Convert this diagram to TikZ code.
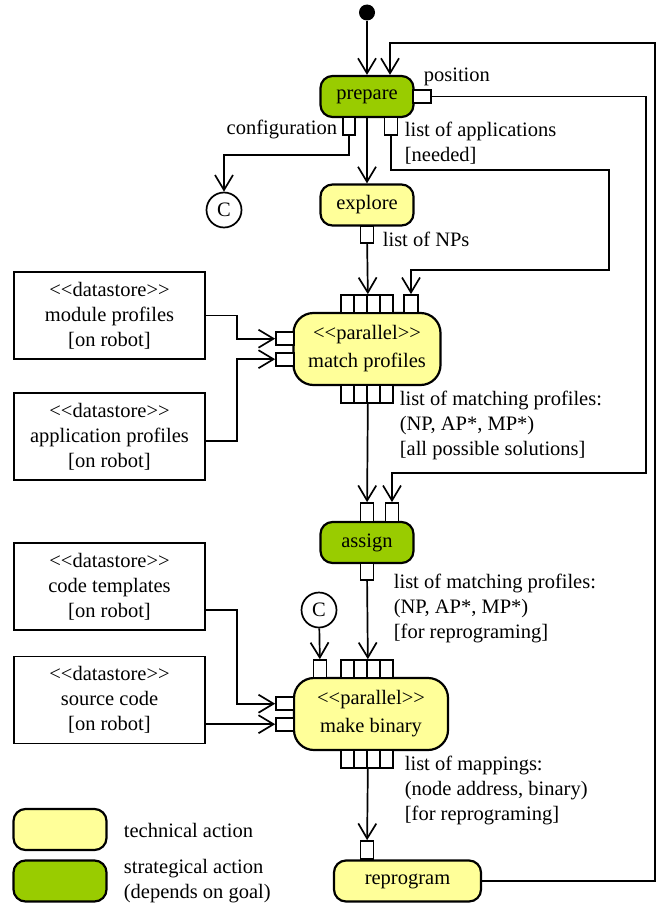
\documentclass[tikz,border=0pt]{standalone}
\usepackage{fontspec}
\setmainfont{Liberation Serif}
\usetikzlibrary{arrows.meta}
\definecolor{techyellow}{HTML}{FFFF99}
\definecolor{stratgreen}{HTML}{99CC00}
\begin{document}
\begin{tikzpicture}[x=1pt, y=-1pt, line width=1.7pt,
    font=\fontsize{20.5}{25}\selectfont,
    flow/.style={-{Straight Barb[length=15pt,width=18pt]}},
    action/.style={draw, line width=2.2pt, rounded corners=12pt, inner sep=0pt,
        minimum width=93pt, minimum height=41pt, align=center},
    tech/.style={action, fill=techyellow},
    strat/.style={action, fill=stratgreen},
    wide/.style={minimum width=147pt, minimum height=72pt, rounded corners=20pt},
    store/.style={draw, inner sep=0pt, minimum width=191pt, minimum height=87pt, align=center},
    vport/.style={draw, fill=white, inner sep=0pt, minimum width=13pt, minimum height=18pt},
    hport/.style={draw, fill=white, inner sep=0pt, minimum width=18pt, minimum height=13pt},
    conn/.style={draw, circle, inner sep=0pt, minimum size=35pt},
    lbl/.style={inner sep=0pt, align=left}]
    \useasboundingbox (0,0) rectangle (657,907);

    \node[circle, fill, inner sep=0pt, minimum size=16pt] (start) at (367,12.5) {};
    \node[strat] (prepare) at (367,96.5) {prepare};
    \node[tech] (explore) at (367,205) {explore};
    \node[tech, wide] (match) at (367,349) {<{}<parallel>{}>\\[3pt]match profiles};
    \node[strat] (assign) at (367,542.5) {assign};
    \node[tech, wide, minimum width=154pt] (binary) at (371,714) {<{}<parallel>{}>\\[3pt]make binary};
    \node[tech, minimum width=147pt] (reprogram) at (407.5,881) {reprogram};

    \node[store] (modProf) at (109.5,315.5) {<{}<datastore>{}>\\module profiles\\{[on robot]}};
    \node[store] (appProf) at (109.5,436.7) {<{}<datastore>{}>\\application profiles\\{[on robot]}};
    \node[store] (codeTpl) at (109.5,586.7) {<{}<datastore>{}>\\code templates\\{[on robot]}};
    \node[store] (srcCode) at (109.5,700) {<{}<datastore>{}>\\source code\\{[on robot]}};

    \node[conn] (connA) at (224,210) {C};
    \node[conn] (connB) at (319,610) {C};

    \node[hport] (prepPos) at (422,96.5) {};
    \node[vport, minimum width=12pt] (prepConf) at (349,126) {};
    \node[vport] (prepApps) at (391,126) {};
    \node[vport, minimum height=17pt] (exploreOut) at (367,234.5) {};
    \foreach \i in {1,...,4} {
        \node[vport] (matchIn\i) at ({334.5+13*\i},304) {};
        \node[vport] (matchOut\i) at ({334.5+13*\i},394) {};
        \node[vport] (binaryIn\i) at ({334.5+13*\i},669) {};
        \node[vport] (binaryOut\i) at ({334.5+13*\i},759) {};
    }
    \node[vport, minimum width=14pt] (matchApps) at (411,304) {};
    \node[hport] (matchL1) at (285,338.7) {};
    \node[hport] (matchL2) at (285,359.2) {};
    \node[vport, minimum height=19pt] (assignIn1) at (367,512.5) {};
    \node[vport, minimum height=19pt] (assignIn2) at (392,512.5) {};
    \node[vport, minimum height=17pt] (assignOut) at (367,571.5) {};
    \node[vport] (binaryC) at (320,669) {};
    \node[hport] (binaryL1) at (285,703.7) {};
    \node[hport] (binaryL2) at (285,724.2) {};
    \node[vport] (reprogramIn) at (367,850) {};

    \draw[flow] (start) -- (prepare);
    \draw[flow] (prepare) -- (explore);
    \draw[flow] (reprogram.east) -| (655,43) -| ([xshift=23pt]prepare.north);
    \draw[flow] (prepPos.east) -| (646,473) -| (assignIn2.north);
    \draw[flow] (prepConf.south) -- ++(0,19) -| (connA.north);
    \draw[flow] (prepApps.south) -- ++(0,34) -| (609,270) -| (matchApps.north);
    \draw[flow] (exploreOut) -- (matchIn2.north east);
    \draw[flow] (matchOut2.south east) -- (assignIn1);
    \draw[flow] (assignOut) -- (binaryIn2.north east);
    \draw[flow] (binaryOut2.south east) -- (reprogramIn);
    \draw[flow] (connB) -- (binaryC);
    \draw[flow] (modProf.east) -| ([xshift=-38pt]matchL1.west) -- (matchL1);
    \draw[flow] ([yshift=-4pt]appProf.east) -| ([xshift=-38pt]matchL2.west) -- (matchL2);
    \draw[flow] ([yshift=-23pt]codeTpl.east) -| ([xshift=-38pt]binaryL1.west) -- (binaryL1);
    \draw[flow] (srcCode.east |- binaryL2.west) -- (binaryL2);

    \node[lbl, anchor=north west] (posLbl) at (423,67) {position};
    \node[lbl, anchor=north east] (confLbl) at (338,119) {configuration};
    \node[lbl, anchor=north west] (appsLbl) at (404,121) {list of applications\\{[needed]}};
    \node[lbl, anchor=north west] (npLbl) at (382,231) {list of NPs};
    \node[lbl, anchor=north west] (matchLbl) at (399,390) {list of matching profiles:\\(NP, AP*, MP*)\\{[all possible solutions]}};
    \node[lbl, anchor=north west] (assignLbl) at (393,573) {list of matching profiles:\\(NP, AP*, MP*)\\{[for reprograming]}};
    \node[lbl, anchor=north west] (binaryLbl) at (404,755) {list of mappings:\\(node address, binary)\\{[for reprograming]}};

    \node[tech] (legTech) at (60,829.5) {};
    \node[strat] (legStrat) at (60,881) {};
    \node[lbl, anchor=west] (legTechText) at (123,830) {technical action};
    \node[lbl, anchor=west] (legStratText) at (123,881) {strategical action\\(depends on goal)};
\end{tikzpicture}
\end{document}
